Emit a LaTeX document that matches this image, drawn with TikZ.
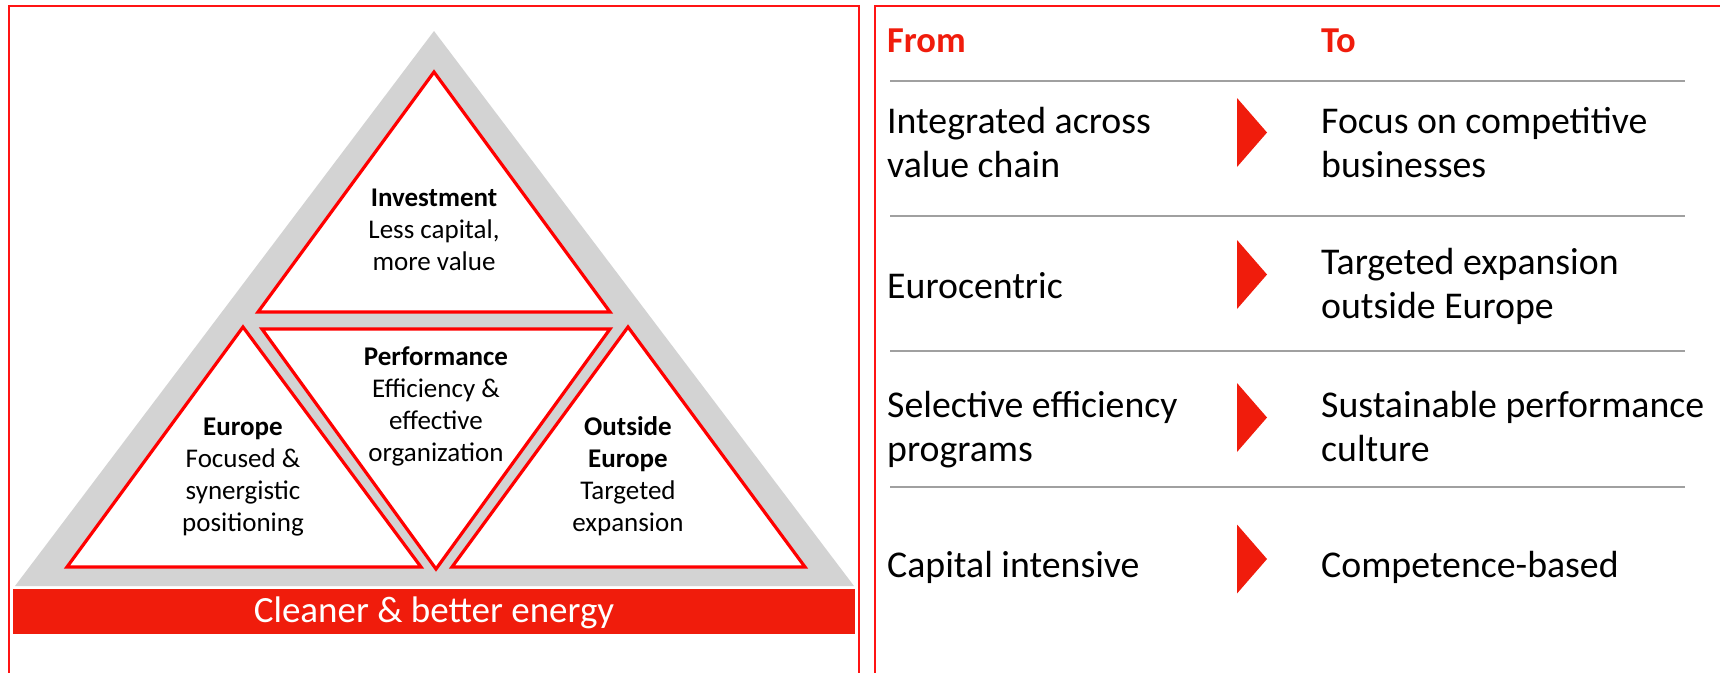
\documentclass[tikz,border=0pt]{standalone}
\usepackage{fontspec}
\setmainfont{Carlito}
\definecolor{framered}{RGB}{255,20,20}
\definecolor{edgered}{RGB}{255,0,0}
\definecolor{barred}{RGB}{240,28,12}
\definecolor{pyrgrey}{RGB}{211,211,211}
\definecolor{rulegrey}{RGB}{160,160,160}
% multi-line nodes below sit on the baseline of their LAST line
\tikzset{
  frameline/.style={draw=framered, line width=1.6pt},
  facet/.style={draw=edgered, fill=white, line width=3.2pt, line join=miter},
  tritext/.style={inner sep=0pt, anchor=base, align=center, font=\fontsize{27}{32}\selectfont},
  rowtext/.style={inner sep=0pt, anchor=base west, align=left, font=\fontsize{37.8}{44}\selectfont},
  headtext/.style={inner sep=0pt, anchor=base west, text=barred, font=\fontsize{36.5}{44}\selectfont\bfseries},
  rowrule/.style={draw=rulegrey, line width=1.5pt},
  chevron/.style={fill=barred, draw=none}
}
\begin{document}
\begin{tikzpicture}[x=1pt, y=-1pt]
\useasboundingbox (0,0) rectangle (1720,672);

% panel frames (open at the bottom / right)
\draw[frameline] (9,690) -- (9,6) -- (859,6) -- (859,690);
\draw[frameline] (875,690) -- (875,6) -- (1740,6);

% ---------- pyramid ----------
\fill[pyrgrey] (434,31) -- (854,586) -- (15,586) -- cycle;
\draw[facet] (434,72) -- (610,312) -- (258,312) -- cycle;
\draw[facet] (262,329) -- (610,329) -- (436,569) -- cycle;
\draw[facet] (243,327) -- (421,567) -- (67,567) -- cycle;
\draw[facet] (628,327) -- (805,567) -- (452,567) -- cycle;

\node[tritext] (invest) at (434,270) {\textbf{Investment}\\Less capital,\\more value};
\node[tritext] (perf) at (436,461) {\textbf{Performance}\\Efficiency \&\\effective\\organization};
\node[tritext] (europe) at (243,531) {\textbf{Europe}\\Focused \&\\synergistic\\positioning};
\node[tritext] (outside) at (628,531) {\textbf{Outside}\\\textbf{Europe}\\Targeted\\expansion};

% base bar
\fill[barred] (13,589) rectangle (855,634);
\node[inner sep=0pt, anchor=base, text=white, font=\fontsize{37}{44}\selectfont] (base) at (434,622) {Cleaner \& better energy};

% ---------- from / to table ----------
\node[headtext] (from) at (887,52) {From};
\node[headtext] (to) at (1321,52) {To};

\foreach \y/\n in {81/r1, 216/r2, 351/r3, 487/r4}{
  \coordinate (\n a) at (890,\y);
  \coordinate (\n b) at (1685,\y);
  \draw[rowrule] (\n a) -- (\n b);
}

\node[rowtext] (f1) at (887,177) {Integrated across\\value chain};
\node[rowtext] (f2) at (887,298) {Eurocentric};
\node[rowtext] (f3) at (887,461) {Selective efficiency\\programs};
\node[rowtext] (f4) at (887,577) {Capital intensive};

\node[rowtext] (t1) at (1321,177) {Focus on competitive\\businesses};
\node[rowtext] (t2) at (1321,318) {Targeted expansion\\outside Europe};
\node[rowtext] (t3) at (1321,461) {Sustainable performance\\culture};
\node[rowtext] (t4) at (1321,577) {Competence-based};

\foreach \c in {132.5, 274.5, 417.5, 559}{
  \fill[chevron] (1237,\c-34.5) -- (1267,\c) -- (1237,\c+34.5) -- cycle;
}
\end{tikzpicture}
\end{document}
